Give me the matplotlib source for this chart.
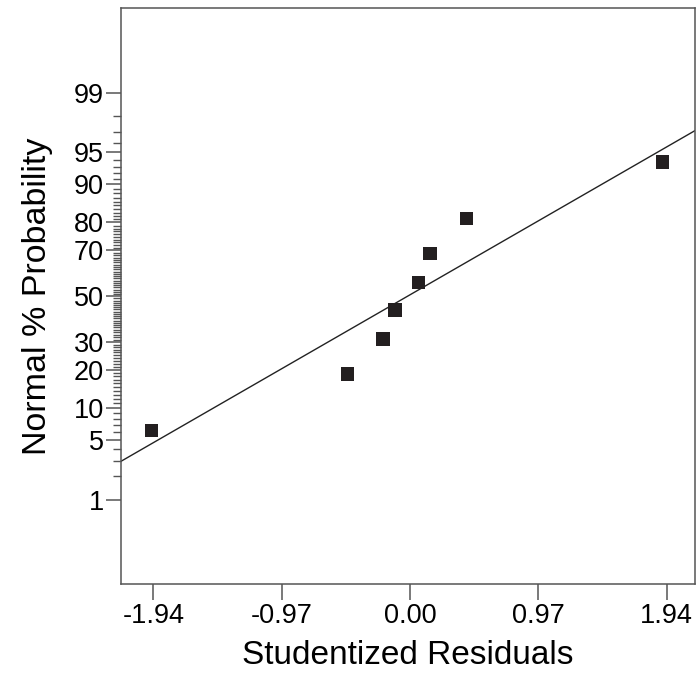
import numpy as np
import matplotlib
matplotlib.use("Agg")
import matplotlib.pyplot as plt
from statistics import NormalDist

# ---- data ----
residuals = [-1.955, -0.474, -0.204, -0.113, 0.063, 0.153, 0.426, 1.907]
probabilities = [6.25, 18.75, 31.25, 43.75, 56.25, 68.75, 81.25, 93.75]
x_ticks = [-1.94, -0.97, 0.00, 0.97, 1.94]
x_tick_labels = ["-1.94", "-0.97", "0.00", "0.97", "1.94"]
y_major = [1, 5, 10, 20, 30, 50, 70, 80, 90, 95, 99]
y_minor = [v for v in range(2, 99) if v not in y_major]
fit_slope = 0.871      # z-score per residual unit
fit_intercept = 0.015  # z-score at residual 0

plt.rcParams['font.family'] = ['Liberation Sans', 'DejaVu Sans']

nd = NormalDist()
_ppf = np.vectorize(nd.inv_cdf, otypes=[float])
_cdf = np.vectorize(nd.cdf, otypes=[float])


def fwd(p):
    p = np.clip(np.asarray(p, dtype=float) / 100.0, 1e-12, 1 - 1e-12)
    return _ppf(p)


def inv(z):
    return _cdf(np.asarray(z, dtype=float)) * 100.0


fig = plt.figure(figsize=(6.98, 6.79), dpi=100)
ax = fig.add_axes([0.1728, 0.1399, 0.9957 - 0.1728, 0.9878 - 0.1399])
ax.set_yscale('function', functions=(fwd, inv))

xlim = (-2.187, 2.154)
ax.set_xlim(*xlim)
ax.set_ylim(0.0502, 99.9497)

# fitted line
lx = np.array(xlim)
ly = inv(fit_slope * lx + fit_intercept)
ax.plot(lx, ly, color='#222222', lw=1.0, zorder=2)

# points
ax.scatter(residuals, probabilities, marker='s', s=95, color='#231f20',
           edgecolors='none', zorder=3)

# ticks
ax.set_xticks(x_ticks)
ax.set_xticklabels(x_tick_labels)
ax.set_yticks(y_major)
ax.set_yticklabels([str(v) for v in y_major])
ax.set_yticks(y_minor, minor=True)
ax.xaxis.set_minor_locator(matplotlib.ticker.NullLocator())

gray = '#555555'
ax.tick_params(axis='y', which='major', direction='out', length=11, width=1.1,
               color=gray, labelsize=19.5, pad=1)
ax.tick_params(axis='y', which='minor', direction='out', length=5.8, width=1.0,
               color=gray)
ax.tick_params(axis='x', which='major', direction='out', length=11.5, width=1.1,
               color=gray, labelsize=19.5, pad=2)
for s in ax.spines.values():
    s.set_color(gray)
    s.set_linewidth(1.1)

ax.set_xlabel('Studentized Residuals', fontsize=24, labelpad=8)
ax.set_ylabel('Normal % Probability', fontsize=24.5, labelpad=15)

fig.savefig('out.png', dpi=100)
